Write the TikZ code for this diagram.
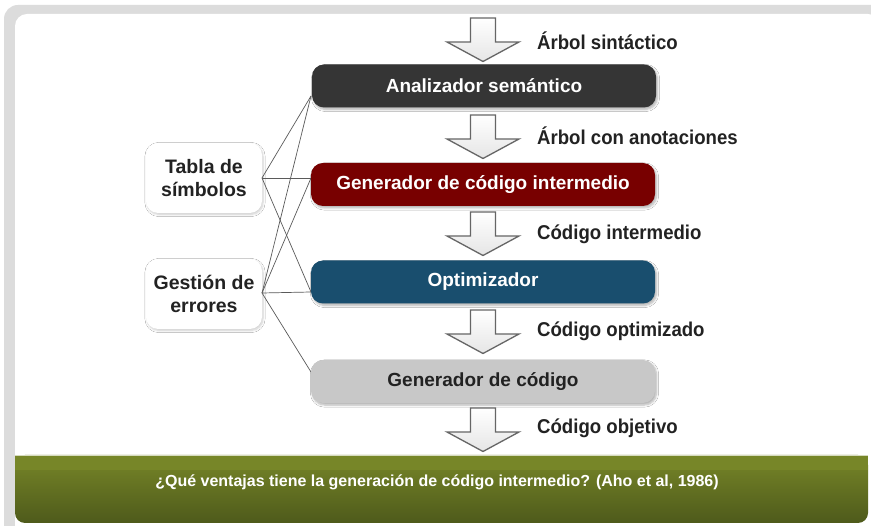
\documentclass[tikz,border=0pt]{standalone}
\usepackage{fontspec}
\setmainfont{Liberation Sans}
\newfontfamily\narrowfont{Liberation Sans}[FakeStretch=0.93]
\usetikzlibrary{shadows.blur}
\definecolor{frameg}{HTML}{DCDCDC}
\definecolor{darkbox}{HTML}{353535}
\definecolor{redbox}{HTML}{780000}
\definecolor{bluebox}{HTML}{194E6E}
\definecolor{greybox}{HTML}{C8C8C8}
\definecolor{txtdark}{HTML}{222222}
\definecolor{greentop}{HTML}{778628}
\definecolor{greenbot}{HTML}{4E5A1B}
\definecolor{linkc}{HTML}{5A5A5A}
\definecolor{arrowc}{HTML}{666666}
\tikzset{
  stage/.style={rounded corners=12pt, minimum width=344pt, minimum height=43pt,
    inner sep=0pt, font=\fontsize{19}{21}\selectfont\bfseries,
    blur shadow={shadow xshift=1.5pt, shadow yshift=-2pt, shadow blur steps=6, shadow opacity=30}},
  sidebox/.style={rounded corners=12pt, fill=white, minimum width=116pt, minimum height=70pt,
    inner sep=0pt, align=center, text=txtdark, font=\fontsize{19.5}{23}\selectfont\bfseries,
    blur shadow={shadow xshift=1pt, shadow yshift=-1.5pt, shadow blur steps=6, shadow opacity=20}},
  flowlabel/.style={anchor=west, inner sep=0pt, text=txtdark, font=\narrowfont\fontsize{20}{22}\selectfont\bfseries},
  link/.style={draw=linkc, line width=0.7pt},
  blockarrow/.pic={
    \path[draw=arrowc, line width=1.3pt, line join=miter, top color=white, bottom color=gray!20]
      (-12.5,-22) -- (-12.5,2) -- (-36,2) -- (0,21.5) -- (36,2) -- (12.5,2) -- (12.5,-22) -- cycle;
  }
}
\begin{document}
\begin{tikzpicture}[x=1pt,y=-1pt]
\useasboundingbox (0,0) rectangle (871,526);
\fill[white] (0,0) rectangle (871,526);
% frame
\fill[frameg, rounded corners=14pt] (4,5) rectangle (890,540);
\fill[white, rounded corners=12pt] (15,14) rectangle (880,540);
% green band
\shade[top color=greentop, bottom color=greenbot, rounded corners=10pt] (15,455) rectangle (868,523);
\fill[greentop] (15,455) rectangle (868,470);
\draw[white!70!greentop, line width=0.8pt] (15,455) -- (868,455);
\node[text=white, font=\fontsize{16}{18}\selectfont\bfseries, inner sep=0pt] (q) at (437,482)
  {¿Qué ventajas tiene la generación de código intermedio? (Aho et al, 1986)};

% arrows
\pic at (483,40) {blockarrow};
\pic at (483,137) {blockarrow};
\pic at (483,234) {blockarrow};
\pic at (483,332) {blockarrow};
\pic at (483,430) {blockarrow};

% flow labels
\node[flowlabel] (l1) at (537,41) {Árbol sintáctico};
\node[flowlabel] (l2) at (537,136) {Árbol con anotaciones};
\node[flowlabel] (l3) at (537,234) {Código intermedio};
\node[flowlabel] (l4) at (537,331) {Código optimizado};
\node[flowlabel] (l5) at (537,428) {Código objetivo};

% side boxes
\node[sidebox] (tabla) at (204,178) {Tabla de\\símbolos};
\node[sidebox] (gest) at (204,294) {Gestión de\\errores};

% connectors (drawn before stages)
\coordinate (tp) at (262,178);
\coordinate (gp) at (262,293);
\coordinate (anL) at (311,96);
\coordinate (gciL) at (311,178);
\coordinate (optL) at (311,292);
\coordinate (genL) at (311,372);
\draw[link] (tp) -- (anL);
\draw[link] (tp) -- (gciL);
\draw[link] (tp) -- (optL);
\draw[link] (gp) -- (anL);
\draw[link] (gp) -- (gciL);
\draw[link] (gp) -- (optL);
\draw[link] (gp) -- (genL);

% stages
\node[stage, fill=darkbox, text=white] (an) at (484,86) {Analizador semántico};
\node[stage, fill=redbox, text=white] (gci) at (483,184.5) {Generador de código intermedio};
\node[stage, fill=bluebox, text=white] (opt) at (483,282) {Optimizador};
\node[stage, fill=greybox, text=txtdark] (gen) at (483,381.5) {Generador de código};
\end{tikzpicture}
\end{document}
